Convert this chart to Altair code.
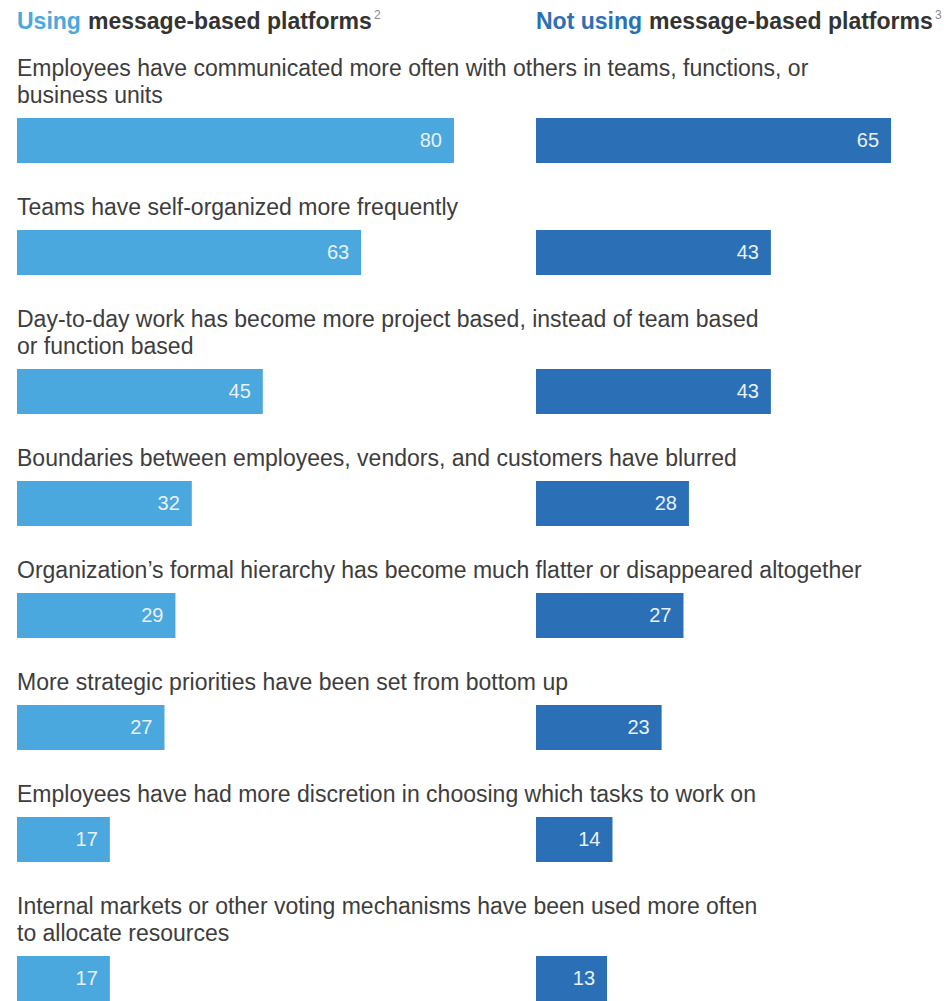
import altair as alt
import pandas as pd

FONT = "Liberation Sans"

# ---- data ----
labels = [
    ["Employees have communicated more often with others in teams, functions, or", "business units"],
    ["Teams have self-organized more frequently"],
    ["Day-to-day work has become more project based, instead of team based", "or function based"],
    ["Boundaries between employees, vendors, and customers have blurred"],
    ["Organization\u2019s formal hierarchy has become much flatter or disappeared altogether"],
    ["More strategic priorities have been set from bottom up"],
    ["Employees have had more discretion in choosing which tasks to work on"],
    ["Internal markets or other voting mechanisms have been used more often", "to allocate resources"],
]
using = [80, 63, 45, 32, 29, 27, 17, 17]
not_using = [65, 43, 43, 28, 27, 23, 14, 13]

header_left = ["Using", "message-based platforms", "2"]
header_right = ["Not using", "message-based platforms", "3"]

# ---- styles ----
LIGHT = "#4aa8de"
DARK = "#2b70b7"
TEXT = "#3d3d3d"
HEAD = "#333333"
PX_PER_UNIT = 5.4625
LEFT_W = 500
RIGHT_W = 400
BAR_H = 45

df = pd.DataFrame({
    "idx": list(range(len(using))),
    "using": using,
    "not_using": not_using,
})


def panel(i, field, color, width):
    base = alt.Chart(df).transform_filter(alt.datum.idx == i)
    xenc = alt.X(f"{field}:Q", axis=None,
                 scale=alt.Scale(domain=[0, width / PX_PER_UNIT], nice=False, zero=True))
    yenc = alt.Y("idx:N", axis=None, scale=alt.Scale(paddingInner=0, paddingOuter=0))
    bar = base.mark_bar(color=color).encode(x=xenc, y=yenc)
    txt = base.mark_text(align="right", baseline="middle", dx=-12, color="#e9f0f6",
                         fontSize=20, font=FONT).encode(x=xenc, y=yenc, text=f"{field}:Q")
    return alt.layer(bar, txt).properties(width=width, height=BAR_H)


rows = []
for i in range(len(using)):
    row = alt.hconcat(
        panel(i, "using", LIGHT, LEFT_W),
        panel(i, "not_using", DARK, RIGHT_W),
        spacing=19,
    ).properties(
        title=alt.TitleParams(
            text=labels[i], anchor="start", fontSize=23, font=FONT,
            fontWeight="normal", color=TEXT, lineHeight=27, offset=10,
        )
    )
    rows.append(row)


def header(parts, color, width, dx_rest, dx_sup):
    d = pd.DataFrame({"t": [0]})
    a = alt.Chart(d).mark_text(
        text=parts[0], align="left", baseline="top", fontSize=23, font=FONT,
        fontWeight="bold", color=color
    ).encode(x=alt.value(0), y=alt.value(0))
    b = alt.Chart(d).mark_text(
        text=parts[1], align="left", baseline="top", fontSize=23, font=FONT,
        fontWeight="bold", color=HEAD, dx=dx_rest
    ).encode(x=alt.value(0), y=alt.value(0))
    c = alt.Chart(d).mark_text(
        text=parts[2], align="left", baseline="top", fontSize=12, font=FONT,
        fontWeight="normal", color="#8a8a8a", dx=dx_sup, dy=-1
    ).encode(x=alt.value(0), y=alt.value(0))
    return alt.layer(a, b, c).properties(width=width, height=23)


head = alt.hconcat(
    header(header_left, LIGHT, LEFT_W, 71, 357),
    header(header_right, DARK, RIGHT_W, 113, 399),
    spacing=19,
)

body = alt.vconcat(*rows, spacing=34)

chart = alt.vconcat(head, body, spacing=24).properties(
    padding={"left": 17, "top": 9, "right": 0, "bottom": 0},
    background="white",
).configure_view(stroke=None)

chart.save("out.html", embed_options={"renderer": "svg", "actions": False})
